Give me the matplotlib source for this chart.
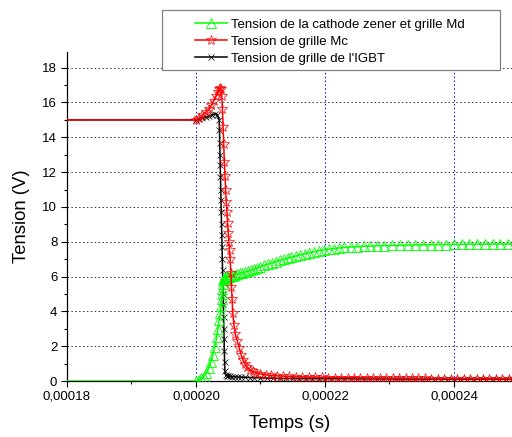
import numpy as np
import matplotlib
matplotlib.use("Agg")
import matplotlib.pyplot as plt
from matplotlib.ticker import MultipleLocator, FuncFormatter
from matplotlib.patches import Rectangle

plt.rcParams['font.family'] = ['Liberation Sans', 'DejaVu Sans']

# temps en microsecondes, tensions en volts
t_md = [180.0, 200.0, 200.4, 200.8, 201.2, 201.6, 202.0, 202.3, 202.6, 202.9,
        203.2, 203.4, 203.6, 203.8, 203.9, 204.0, 204.05, 204.1, 204.15, 204.2,
        204.3, 204.4, 204.55, 204.7, 204.9,
        205.1, 205.4, 205.7, 206.0, 206.4, 206.8, 207.2, 207.6, 208.0, 208.5,
        209.0, 209.5, 210.0, 210.6, 211.2, 211.8, 212.4, 213.0, 213.6, 214.2,
        214.8, 215.5, 216.2, 216.9, 217.6, 218.3, 219.0, 219.8, 220.6, 221.4,
        222.2, 223.0, 224.0, 225.0, 226.0, 227.0, 228.0, 229.2, 230.4, 231.6,
        232.8, 234.0, 235.2, 236.4, 237.6, 238.8, 240.0, 241.2, 242.4, 243.6,
        244.8, 246.0, 247.2, 248.4, 249.6]
v_md = [0.0, 0.0, 0.05, 0.15, 0.25, 0.45, 0.75, 1.1, 1.5, 1.95,
        2.5, 3.0, 3.5, 3.9, 4.3, 4.7, 5.0, 5.3, 5.55, 5.8,
        5.85, 5.9, 5.93, 5.96, 5.98,
        6.0, 6.03, 6.06, 6.1, 6.14, 6.18, 6.22, 6.26, 6.31, 6.36,
        6.42, 6.5, 6.57, 6.65, 6.72, 6.79, 6.86, 6.93, 6.99, 7.05,
        7.11, 7.18, 7.25, 7.31, 7.37, 7.42, 7.48, 7.53, 7.57, 7.61,
        7.64, 7.67, 7.7, 7.72, 7.74, 7.75, 7.77, 7.78, 7.79, 7.8,
        7.81, 7.82, 7.82, 7.83, 7.84, 7.84, 7.85, 7.85, 7.86, 7.86,
        7.86, 7.87, 7.87, 7.87, 7.88]

t_mc = [180.0, 200.0, 200.5, 201.0, 201.5, 202.0, 202.4, 202.8, 203.1, 203.4,
        203.6, 203.8, 203.9,
        204.0, 204.1, 204.2, 204.3, 204.4, 204.5, 204.6, 204.7, 204.8, 204.9,
        205.0, 205.1, 205.2, 205.3, 205.4, 205.5, 205.6, 205.7,
        205.9, 206.1, 206.4, 206.7, 207.0, 207.3, 207.6, 207.9, 208.3, 208.8,
        209.3, 210.0, 210.8, 211.6, 212.5,
        213.5, 214.5, 215.5, 216.5, 217.5, 218.5, 219.5, 220.5, 221.5, 222.5,
        223.5, 224.5, 225.5, 226.5, 227.5, 228.5, 229.5, 230.5, 231.5, 232.5,
        233.5, 234.5, 235.5, 236.5, 237.5, 238.5, 239.5, 240.5, 241.5, 242.5,
        243.5, 244.5, 245.5, 246.5, 247.5, 248.5, 249.5]
v_mc = [15.0, 15.0, 15.1, 15.3, 15.45, 15.6, 15.85, 16.1, 16.35, 16.6,
        16.75, 16.85, 16.8,
        16.4, 15.6, 14.6, 13.6, 12.6, 11.8, 11.0, 10.3, 9.7, 9.1,
        8.5, 8.0, 7.5, 7.0, 6.2, 5.4, 4.7, 3.9,
        3.2, 2.7, 2.3, 1.9, 1.5, 1.2, 1.0, 0.8, 0.65, 0.55,
        0.47, 0.4, 0.35, 0.32, 0.3,
        0.28, 0.26, 0.25, 0.24, 0.23, 0.22, 0.21, 0.2, 0.2, 0.19,
        0.19, 0.18, 0.18, 0.17, 0.17, 0.17, 0.16, 0.16, 0.16, 0.15,
        0.15, 0.15, 0.15, 0.14, 0.14, 0.14, 0.14, 0.13, 0.13, 0.13,
        0.13, 0.13, 0.12, 0.12, 0.12, 0.12, 0.12]

t_igbt = [180.0, 200.0, 200.5, 201.0, 201.5, 202.0, 202.5, 203.0, 203.3,
          203.60, 203.64, 203.68, 203.72, 203.76, 203.80, 203.84, 203.88,
          203.92, 203.96, 204.00, 204.04, 204.08, 204.12, 204.16, 204.20,
          204.24, 204.28, 204.32, 204.36, 204.40, 204.44, 204.48,
          204.6, 204.8, 205.0, 205.3, 205.6, 206.0, 206.5, 207.0, 207.6, 208.3,
          209.0, 210.0, 211.0, 212.0, 213.0,
          214.0, 215.0, 216.0, 217.0, 218.0, 219.0, 220.0, 221.0, 222.0, 223.0,
          224.0, 225.0, 226.0, 227.0, 228.0, 229.0, 230.0, 231.0, 232.0, 233.0,
          234.0, 235.0, 236.0, 237.0, 238.0, 239.0, 240.0, 241.0, 242.0, 243.0,
          244.0, 245.0, 246.0, 247.0, 248.0, 249.0]
v_igbt = [15.0, 15.0, 15.05, 15.1, 15.15, 15.2, 15.3, 15.35, 15.3,
          15.0, 14.4, 13.7, 13.0, 12.4, 11.7, 11.0, 10.4,
          9.7, 9.0, 8.4, 7.7, 7.0, 6.4, 5.7, 5.0,
          4.4, 3.7, 3.0, 2.4, 1.7, 1.1, 0.6,
          0.35, 0.3, 0.28, 0.26, 0.25, 0.24, 0.23, 0.22, 0.21, 0.2,
          0.19, 0.18, 0.17, 0.16, 0.15,
          0.15, 0.15, 0.14, 0.14, 0.14, 0.14, 0.13, 0.13, 0.13, 0.13,
          0.13, 0.12, 0.12, 0.12, 0.12, 0.12, 0.12, 0.11, 0.11, 0.11,
          0.11, 0.11, 0.11, 0.11, 0.11, 0.1, 0.1, 0.1, 0.1, 0.1,
          0.1, 0.1, 0.1, 0.1, 0.1, 0.1]

labels = ['Tension de la cathode zener et grille Md',
          'Tension de grille Mc',
          "Tension de grille de l'IGBT"]

fig = plt.figure(figsize=(5.12, 4.37), dpi=100)
ax = fig.add_axes([67 / 512, 1 - 381 / 437, 1 - 67 / 512, (381 - 52) / 437])

us = 1e-6
l_igbt, = ax.plot(np.array(t_igbt) * us, v_igbt, color='black', lw=1.1,
                  marker='x', ms=5, mew=0.5, markevery=slice(1, None), zorder=3)
l_md, = ax.plot(np.array(t_md) * us, v_md, color='#00ff00', lw=1.1,
                marker='^', ms=6.5, mfc='none', mew=0.6, markevery=slice(1, None), zorder=4)
l_mc, = ax.plot(np.array(t_mc) * us, v_mc, color='red', lw=1.1,
                marker='*', ms=7.5, mfc='none', mew=0.5, markevery=slice(1, None), zorder=5)

ax.set_xlim(0.00018, 0.000249)
ax.set_ylim(0, 18.9)
ax.xaxis.set_major_locator(MultipleLocator(0.00002))
ax.xaxis.set_minor_locator(MultipleLocator(0.00001))
ax.yaxis.set_major_locator(MultipleLocator(2))
ax.yaxis.set_minor_locator(MultipleLocator(1))
ax.xaxis.set_major_formatter(FuncFormatter(lambda x, p: f"{x:.5f}".replace('.', ',')))

ax.grid(axis='y', which='major', color='#333333', ls=(0, (1.5, 2.5)), lw=0.7)
ax.grid(axis='x', which='major', color='blue', ls=(0, (1.5, 2.5)), lw=0.7)
ax.set_axisbelow(True)

for s in ['top', 'right']:
    ax.spines[s].set_visible(False)
for s in ['left', 'bottom']:
    ax.spines[s].set_linewidth(0.9)
ax.tick_params(which='major', direction='out', length=4, width=0.8, labelsize=9.5, pad=3)
ax.tick_params(which='minor', direction='out', length=2.5, width=0.8)

ax.set_xlabel('Temps (s)', fontsize=13.3, labelpad=9)
ax.set_ylabel('Tension (V)', fontsize=13.3, labelpad=9)

# cadre de la légende, dessiné à part
fig.patches.append(Rectangle((162 / 512, 1 - 70 / 437), 338 / 512, 60 / 437,
                             transform=fig.transFigure, facecolor='white',
                             edgecolor='#808080', lw=0.9, zorder=2))
fig.legend([l_md, l_mc, l_igbt], labels, loc='upper left',
           bbox_to_anchor=(195 / 512, 1 - 18.5 / 437), frameon=False,
           borderpad=0, borderaxespad=0, handlelength=2.4, handletextpad=0.35,
           labelspacing=0.36, numpoints=1, fontsize=9.5, markerscale=1.0).set_zorder(3)

fig.savefig('out.png', dpi=100)
